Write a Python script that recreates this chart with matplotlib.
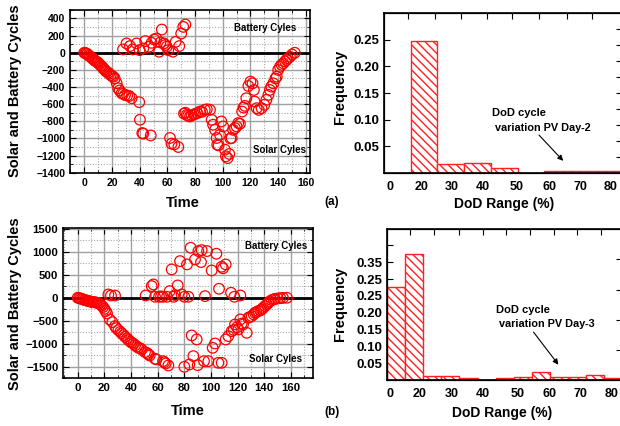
import matplotlib
matplotlib.use("Agg")
import matplotlib.pyplot as plt
from matplotlib.ticker import MultipleLocator

plt.rcParams["font.family"] = ["Liberation Sans", "DejaVu Sans"]
plt.rcParams["font.weight"] = "bold"
plt.rcParams["axes.labelweight"] = "bold"
plt.rcParams["hatch.linewidth"] = 1.0

# ---- (a) PV Day-2 cycles ----
solar_a_t = [0, 0.7, 1.4, 2.1, 2.9, 3.6, 4.3, 5, 5.8, 6.5, 7.3, 8, 8.8, 9.5, 10, 11, 12, 13,
             13.7, 14.5, 15.3, 16, 17.3, 18, 19, 20, 21, 22, 23.4, 24.5, 25.5, 27, 28, 29.4,
             31, 32.5, 34.2, 39.7, 40.2, 41.9, 42.6, 48, 61.9, 63, 65, 67.9,
             72, 73, 74, 75, 76.3, 77.5, 79, 80, 81.5, 83.5, 85, 87, 88.5, 90.8, 92, 93,
             94.4, 95.6, 96, 97, 98, 99, 100.3, 101.6, 102.3, 103.5, 104.7, 105.5, 106.4,
             107.5, 108.8, 110, 111.2, 112.4, 114, 115, 116, 117, 118.5, 120, 121.5, 122.5,
             123, 124.5, 126, 128, 130, 131.5, 133, 134, 135, 136.5, 138, 139, 140, 141.3,
             142.5, 143.7, 145, 146, 147, 148.5, 150, 152]
solar_a_v = [0, -3, -8, -14, -27, -35, -45, -55, -65, -77, -87, -95, -105, -112, -116, -135,
             -150, -165, -181, -195, -210, -220, -232, -245, -260, -272, -279, -300, -356,
             -414, -440, -472, -480, -493, -500, -505, -530, -577, -782, -937, -945, -965,
             -995, -1061, -1070, -1100,
             -710, -700, -725, -735, -744, -730, -720, -716, -705, -686, -690, -666, -660,
             -666, -782, -840, -899, -995, -1073, -1081, -957, -802, -860, -1131, -1209,
             -1230, -1181, -1000, -995, -900, -879, -860, -821, -830, -686, -640, -620,
             -531, -388, -337, -357, -434, -570, -647, -667, -647, -608, -550, -492, -434,
             -395, -357, -300, -279, -201, -163, -140, -123, -100, -85, -65, -47, -20, 0]
battery_a_t = [28, 30.5, 33, 35, 37.8, 40, 42.6, 44, 46.7, 48.6, 50.5, 52, 54, 55, 56,
               57.5, 58.5, 59.5, 60.6, 64, 66, 68.6, 70, 71.5, 73]
battery_a_v = [39, 109, 78, 39, 109, 31, 50, 136, 70, 116, 155, 167, 12, 120, 271, 109,
               90, 70, 31, 12, 128, 78, 225, 302, 329]

# ---- (b) PV Day-3 cycles ----
solar_b_t = [0, 1, 2, 3, 4, 5, 6, 7, 8, 9, 10, 11, 12, 13, 14, 15, 16, 17, 18, 19, 20, 21,
             22, 24, 26, 28, 29, 30.5, 32, 33, 34.5, 35.5, 37, 38, 39.5, 40.5, 42, 43, 44.5,
             45.5, 47, 48, 50.5, 52, 53, 54, 58, 59, 64, 65, 66, 68,
             80, 83.75, 85.5, 86.75, 89.25, 90, 94.75, 98, 101.25, 103, 105.5, 108,
             111, 113, 115.5, 117, 118, 119.5, 120.5, 122, 123, 124, 126.75, 128, 129,
             130.5, 132, 133, 134, 135.5, 137, 138, 139, 140.5, 142, 143, 144, 145.5, 147,
             148, 150, 152, 154, 157]
solar_b_v = [0, -5, -15, -25, -35, -45, -55, -62, -70, -78, -85, -90, -95, -100, -105, -110,
             -120, -140, -170, -200, -240, -290, -340, -471, -529, -616, -660, -703, -740,
             -775, -810, -848, -880, -920, -950, -978, -1000, -1036, -1060, -1087, -1100,
             -1123, -1181, -1200, -1232, -1254, -1326, -1340, -1377, -1400, -1428, -1471,
             -1500, -1450, -819, -1268, -906, -1464, -1377, -1377, -1087, -993, -1413, -1413,
             -906, -833, -725, -700, -580, -640, -688, -471, -560, -580, -761, -435, -420,
             -399, -360, -326, -310, -290, -270, -254, -220, -181, -140, -109, -80, -51, -35,
             -25, -15, -8, -3, 0]
battery_b_t = [23, 25, 28, 51, 55.5, 56.75, 58, 61, 62.5, 64, 67, 69, 70.5, 72, 73, 75,
               76.75, 78, 80, 82, 83, 84.75, 88, 90.5, 92.5, 93, 95.5, 97, 100.5, 104, 106,
               108, 109, 111, 115, 117.5, 122]
battery_b_v = [72, 50, 50, 50, 254, 290, 22, 22, 30, 22, 22, 145, 616, 22, 60, 268, 797,
               72, 22, 725, 22, 1087, 833, 1015, 775, 1036, 36, 1015, 594, 957, 196, 674,
               640, 725, 109, 22, 50]

# ---- DoD histograms (bin index along the axis) ----
hist_a_bins = [1, 2, 3, 4, 5, 6, 7, 8]
hist_a_freq = [0.248, 0.017, 0.018, 0.009, 0.0, 0.004, 0.004, 0.004]
hist_b_bins = [0, 1, 2, 3, 4, 5, 6, 7, 8, 9, 10, 11, 12]
hist_b_freq = [0.275, 0.375, 0.012, 0.012, 0.005, 0.0, 0.005, 0.010, 0.025, 0.010,
               0.010, 0.015, 0.006]
dod_labels = ["0", "20", "30", "40", "50", "60", "70", "80"]
freq_b_labels = ["0.05", "0.10", "0.15", "0.20", "0.25", "0.25", "0.35", ""]

W, H = 620, 426
fig = plt.figure(figsize=(W / 100, H / 100), dpi=100)


def px_axes(l, t, r, b):
    return fig.add_axes([l / W, 1 - b / H, (r - l) / W, (b - t) / H])


def scatter_panel(ax, st, sv, bt, bv, ymaj, ymin, fs):
    ax.scatter(st, sv, s=58, facecolors="none", edgecolors="red", linewidths=0.9, zorder=3)
    ax.scatter(bt, bv, s=58, facecolors="none", edgecolors="red", linewidths=0.9, zorder=3)
    ax.axhline(0, color="black", lw=2, zorder=2)
    ax.xaxis.set_major_locator(MultipleLocator(20))
    ax.xaxis.set_minor_locator(MultipleLocator(10))
    ax.yaxis.set_major_locator(MultipleLocator(ymaj))
    ax.yaxis.set_minor_locator(MultipleLocator(ymin))
    ax.grid(which="major", color="#a0a0a0", lw=1.0, zorder=0)
    ax.grid(which="minor", color="#a8a8a8", lw=0.8, ls=(0, (1, 1.5)), zorder=0)
    ax.set_axisbelow(True)
    ax.tick_params(which="both", direction="in", top=True, right=True, labelsize=fs)
    ax.tick_params(which="major", length=4)
    ax.tick_params(which="minor", length=2)
    for sp in ax.spines.values():
        sp.set_linewidth(1.2)
    ax.set_xlabel("Time", fontsize=10.5)
    ax.set_ylabel("Solar and Battery Cycles", fontsize=10.5)


ax1 = px_axes(70, 9.5, 310, 172.7)
scatter_panel(ax1, solar_a_t, solar_a_v, battery_a_t, battery_a_v, 200, 100, 7.5)
ax1.set_xlim(-10.3, 163)
ax1.set_ylim(-1400, 505)
ax1.set_xticks(range(0, 161, 20))
ax1.set_yticks(range(-1400, 401, 200))
ax1.text(130.5, 291, "Battery Cyles", fontsize=7, ha="center", va="center")
ax1.text(141.3, -1140, "Solar Cyles", fontsize=7, ha="center", va="center")
ax1.xaxis.set_label_coords(0.47, -0.145)
ax1.yaxis.set_label_coords(-0.2, 0.5)

ax3 = px_axes(63.3, 228.3, 313, 378.3)
scatter_panel(ax3, solar_b_t, solar_b_v, battery_b_t, battery_b_v, 500, 250, 8.2)
ax3.set_xlim(-10.8, 176.5)
ax3.set_ylim(-1750, 1510)
ax3.set_xticks(range(0, 161, 20))
ax3.set_yticks(range(-1500, 1501, 500))
ax3.text(149, 1122, "Battery Cyles", fontsize=7, ha="center", va="center")
ax3.text(148, -1326, "Solar Cyles", fontsize=7, ha="center", va="center")
ax3.xaxis.set_label_coords(0.5, -0.172)
ax3.yaxis.set_label_coords(-0.165, 0.5)


def hist_panel(ax, bins, freq, xmax, ymax, label_pos, top_ticks, right_ticks):
    ax.bar(bins, freq, width=1, align="edge", facecolor="white", edgecolor="#ff2020",
           hatch="\\\\\\\\", lw=1.0, zorder=2)
    ax.set_xlim(0, xmax)
    ax.set_ylim(0, ymax)
    ax.set_xticks(label_pos)
    ax.set_xticklabels(dod_labels)
    ax.tick_params(axis="x", length=0, labelsize=9, pad=6)
    ax.tick_params(axis="y", direction="in", length=4, labelsize=9.5)
    for sp in ax.spines.values():
        sp.set_linewidth(1.2)
    axt = ax.twiny()
    axt.set_xlim(0, xmax)
    axt.set_xticks(top_ticks)
    axt.tick_params(axis="x", direction="in", length=4, labeltop=False)
    axr = ax.twinx()
    axr.set_ylim(0, ymax)
    axr.set_yticks(right_ticks)
    axr.tick_params(axis="y", direction="in", length=4, labelright=False)
    ax.set_xlabel("DoD Range (%)", fontsize=10)
    ax.set_ylabel("Frequency", fontsize=10.5)


ax2 = px_axes(384, 13, 622, 173)
hist_panel(ax2, hist_a_bins, hist_a_freq, 8.91, 0.30,
           [0.22, 1.39, 2.55, 3.7, 4.98, 6.2, 7.34, 8.5],
           [0.9, 1.9, 2.9, 3.85, 4.8, 5.8, 6.85, 7.8],
           [0.03, 0.06, 0.09, 0.12, 0.15, 0.18, 0.21, 0.24, 0.27])
ax2.set_yticks([0.05, 0.10, 0.15, 0.20, 0.25])
ax2.set_yticklabels(["0.05", "0.10", "0.15", "0.20", "0.25"])
ax2.xaxis.set_label_coords(0.504, -0.15)
ax2.yaxis.set_label_coords(-0.155, 0.54)
ax2.text(4.04, 0.112, "DoD cycle", fontsize=8, ha="left", va="center")
ax2.text(4.16, 0.084, "variation PV Day-2", fontsize=7.8, ha="left", va="center")
ax2.annotate("", xy=(6.78, 0.019), xytext=(5.73, 0.075),
             arrowprops=dict(arrowstyle="-|>", color="black", lw=0.8, mutation_scale=8))

ax4 = px_axes(387, 229.3, 622, 380)
hist_panel(ax4, hist_b_bins, hist_b_freq, 12.98, 0.448,
           [0.17, 1.82, 3.6, 5.3, 7.2, 9.0, 10.7, 12.4],
           [1.27, 2.6, 4.0, 5.3, 6.6, 7.9, 9.2, 10.5, 11.8],
           [0.089, 0.179, 0.268, 0.36])
ax4.set_yticks([0.05, 0.10, 0.15, 0.20, 0.25, 0.30, 0.35, 0.40])
ax4.set_yticklabels(freq_b_labels)
ax4.xaxis.set_label_coords(0.49, -0.173)
ax4.yaxis.set_label_coords(-0.17, 0.504)
ax4.text(6.02, 0.208, "DoD cycle", fontsize=8, ha="left", va="center")
ax4.text(6.19, 0.167, "variation PV Day-3", fontsize=7.8, ha="left", va="center")
ax4.annotate("", xy=(9.56, 0.039), xytext=(8.0, 0.149),
             arrowprops=dict(arrowstyle="-|>", color="black", lw=0.8, mutation_scale=8))

fig.text(332 / W, 1 - 202 / H, "(a)", fontsize=8.5, ha="center", va="center")
fig.text(332 / W, 1 - 412 / H, "(b)", fontsize=8.5, ha="center", va="center")

fig.savefig("out.png", dpi=100)
